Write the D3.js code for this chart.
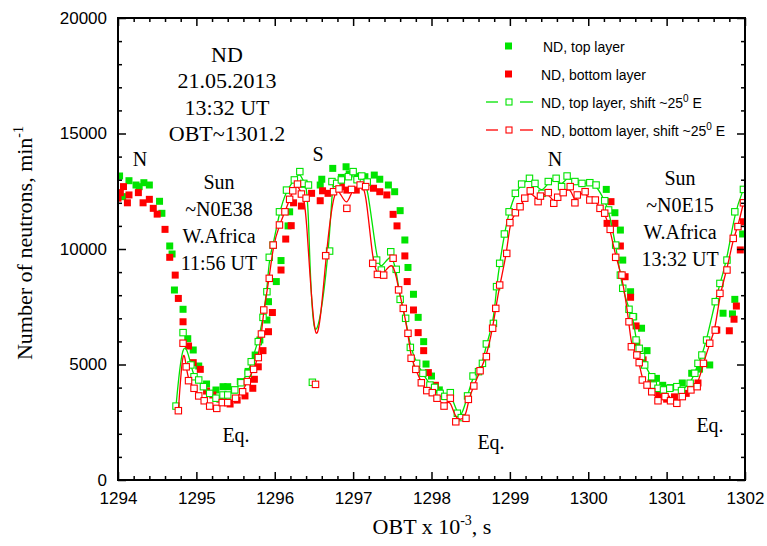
<!DOCTYPE html>
<html>
<head>
<meta charset="utf-8">
<script src="https://cdn.jsdelivr.net/npm/d3@7/dist/d3.min.js"></script>
<style>
  html, body { margin: 0; padding: 0; background: #fff; }
  svg { display: block; }
</style>
</head>
<body>
<svg id="chart" width="767" height="546"></svg>
<script>
// ND neutron counts, 21.05.2013, versus on-board time (OBT x 10^-3 s)
const xTicks = [1294, 1295, 1296, 1297, 1298, 1299, 1300, 1301, 1302];
const yTicks = [0, 5000, 10000, 15000, 20000];

// top layer, measured
const topLayer = [
  [1294.02,13160],[1294.06,12265],[1294.14,12957],[1294.23,12770],[1294.27,12697],[1294.33,12870],
  [1294.40,12770],[1294.53,12065],[1294.56,11545],[1294.66,10130],[1294.69,9784],[1294.72,8225],
  [1294.83,7390],[1294.89,6117],[1294.96,5628],[1295.03,4935],[1295.13,4156],[1295.25,3896],
  [1295.34,4040],[1295.40,4040],[1295.48,3900],[1295.56,4260],[1295.66,4700],[1295.75,5410],
  [1295.81,6060],[1295.90,6926],[1295.92,7720],[1296.02,8590],[1296.08,9500],[1296.17,11000],
  [1296.19,11610],[1296.38,12800],[1296.58,12770],[1296.60,13020],[1296.74,13490],[1296.85,13100],
  [1296.91,13560],[1296.95,13250],[1297.05,13150],[1297.15,13130],[1297.27,13200],[1297.34,13020],
  [1297.45,12770],[1297.53,12480],[1297.60,11660],[1297.66,10390],[1297.70,9200],[1297.77,8040],
  [1297.83,7040],[1297.90,5990],[1297.93,5020],[1298.00,4500],[1298.10,3900],
  [1300.23,12580],[1300.34,11570],[1300.41,10820],[1300.44,9520],[1300.54,8150],[1300.58,7070],
  [1300.68,6570],[1300.75,5600],[1300.87,4400],[1300.95,4100],[1301.05,4000],[1301.20,4200],
  [1301.32,4620],[1301.42,4800],[1301.55,4980],[1301.72,7220],[1301.84,7190],[1301.87,7820],
  [1301.97,10650]
];

// bottom layer, measured
const bottomLayer = [
  [1294.00,12200],[1294.03,12440],[1294.07,12700],[1294.12,12000],[1294.14,12340],[1294.26,12440],
  [1294.32,12000],[1294.40,12150],[1294.45,11760],[1294.50,11510],[1294.60,10850],[1294.66,9640],
  [1294.73,8870],[1294.77,7860],[1294.83,6850],[1294.90,5800],[1294.96,5080],[1295.05,4790],
  [1295.13,3850],[1295.21,3680],[1295.30,3500],[1295.43,3290],[1295.52,3460],[1295.62,3640],
  [1295.72,3970],[1295.74,4360],[1295.79,4900],[1295.85,5600],[1295.92,6420],[1295.97,7250],
  [1296.08,9090],[1296.14,10430],[1296.21,11010],[1296.24,12000],[1296.34,11860],[1296.47,12410],
  [1296.58,12090],[1296.61,12520],[1296.68,12410],[1296.78,12840],[1296.85,12700],[1296.92,12550],
  [1297.04,12550],[1297.15,12700],[1297.26,12630],[1297.34,12480],[1297.43,12340],[1297.51,11500],
  [1297.56,11000],[1297.66,9700],[1297.69,8590],[1297.77,7360],[1297.83,6380],[1297.90,5600],
  [1297.96,4650],[1298.05,4100],
  [1300.24,11110],[1300.29,12050],[1300.34,11110],[1300.41,10130],[1300.47,8800],[1300.54,7910],
  [1300.61,6670],[1300.62,5940],[1300.70,5200],[1300.80,4200],[1300.90,3700],[1301.00,3500],
  [1301.10,3600],[1301.25,3750],[1301.40,4200],[1301.64,6490],[1301.80,6460],[1301.86,6960],
  [1301.89,7530],[1301.94,9960],[1301.98,11180]
];

// top layer, shifted ~25 deg E
const topShift = [
  [1294.74,3200],[1294.83,6380],[1294.93,4980],[1294.97,4470],[1295.03,4330],[1295.09,4040],
  [1295.17,3750],[1295.25,3540],[1295.34,3680],[1295.40,3680],[1295.49,3900],[1295.57,4210],
  [1295.66,4620],[1295.70,5120],[1295.79,5990],[1295.85,7040],[1295.90,8150],[1295.93,9640],
  [1295.98,10170],[1296.06,11610],[1296.15,12550],[1296.25,12990],[1296.32,13350],[1296.37,12840],
  [1296.43,12770],[1296.48,4230],[1296.70,9910],[1296.73,12920],[1296.79,12840],[1296.85,12990],
  [1296.94,13130],[1297.00,13350],[1297.05,13000],[1297.11,13160],[1297.18,12900],[1297.30,9520],
  [1297.36,9090],[1297.48,9880],[1297.55,9120],[1297.60,7820],[1297.67,7000],[1297.73,5740],
  [1297.81,5050],[1297.89,4620],[1297.98,4110],[1298.04,4010],[1298.11,3750],[1298.17,3620],
  [1298.24,3780],[1298.33,2890],[1298.38,2700],[1298.46,3640],[1298.53,4500],[1298.60,4690],
  [1298.65,5050],[1298.70,5890],[1298.79,6780],[1298.83,8370],[1298.87,9380],[1298.93,10650],
  [1298.99,11610],[1299.07,12410],[1299.15,12810],[1299.25,13060],[1299.32,12840],[1299.41,12410],
  [1299.49,12920],[1299.59,13060],[1299.66,12700],[1299.73,13160],[1299.83,12920],[1299.92,12840],
  [1300.02,12870],[1300.10,12770],[1300.21,12090],[1300.26,11690],[1300.35,10170],[1300.41,8870],
  [1300.44,8300],[1300.52,7390],[1300.57,7070],[1300.61,6060],[1300.65,5700],[1300.68,5340],
  [1300.72,4980],[1300.81,4470],[1300.83,4110],[1300.89,3970],[1300.96,3900],[1301.04,3970],
  [1301.13,4040],[1301.19,3870],[1301.30,4190],[1301.36,4620],[1301.40,5050],[1301.45,5410],
  [1301.51,6060],[1301.62,7720],[1301.68,8510],[1301.77,9520],[1301.87,11610],[1301.98,12580]
];

// bottom layer, shifted ~25 deg E
const bottomShift = [
  [1294.77,3000],[1294.83,5920],[1294.87,4900],[1294.90,4300],[1294.97,3970],[1295.03,3640],
  [1295.10,3430],[1295.17,3200],[1295.26,3100],[1295.33,3350],[1295.40,3350],[1295.50,3540],
  [1295.59,3820],[1295.65,4260],[1295.73,4790],[1295.79,5300],[1295.83,6320],[1295.86,7360],
  [1295.93,8730],[1295.98,10170],[1296.06,11040],[1296.13,11610],[1296.19,12150],[1296.23,12520],
  [1296.29,12810],[1296.34,12380],[1296.40,12200],[1296.52,4140],[1296.65,9710],[1296.75,12480],
  [1296.82,12600],[1296.92,11760],[1296.98,12580],[1297.09,12770],[1297.16,12700],[1297.25,9380],
  [1297.31,8900],[1297.39,8870],[1297.51,9600],[1297.58,8230],[1297.64,7430],[1297.70,6350],
  [1297.74,5270],[1297.80,4790],[1297.87,4210],[1297.94,3870],[1298.01,3780],[1298.07,3540],
  [1298.16,3200],[1298.24,3540],[1298.31,2520],[1298.44,2670],[1298.47,3490],[1298.54,4070],
  [1298.62,4730],[1298.70,5340],[1298.78,6570],[1298.82,7430],[1298.87,8440],[1298.96,9810],
  [1299.00,11140],[1299.07,11570],[1299.13,11830],[1299.19,12200],[1299.26,12520],[1299.36,12050],
  [1299.39,12290],[1299.49,12440],[1299.56,11980],[1299.61,12240],[1299.68,12440],[1299.77,12700],
  [1299.83,12000],[1299.86,12340],[1299.96,12480],[1300.02,12120],[1300.09,12120],[1300.15,11760],
  [1300.21,11550],[1300.28,10850],[1300.35,9640],[1300.43,8870],[1300.52,6850],[1300.55,5770],
  [1300.62,5410],[1300.65,5080],[1300.69,4330],[1300.75,4110],[1300.81,3820],[1300.89,3430],
  [1300.98,3610],[1301.05,3430],[1301.13,3320],[1301.20,3610],[1301.31,3900],[1301.39,4040],
  [1301.47,5050],[1301.55,5920],[1301.62,6490],[1301.68,8080],[1301.77,9090],[1301.85,10460],
  [1301.91,10970],[1301.98,12000]
];

const GREEN = "#00e400";
const RED = "#ff0000";

const svg = d3.select("#chart");
const pLeft = 118, pRight = 745, pTop = 18, pBottom = 480;

const x = d3.scaleLinear().domain([1294, 1302]).range([pLeft, pRight]);
const y = d3.scaleLinear().domain([0, 20000]).range([pBottom, pTop]);

svg.append("defs").append("clipPath").attr("id", "clip")
  .append("rect").attr("x", pLeft).attr("y", pTop).attr("width", pRight - pLeft).attr("height", pBottom - pTop);
const inner = svg.append("g").attr("clip-path", "url(#clip)");

// filled squares: measured layers
function filled(data, color) {
  inner.append("g").selectAll("rect").data(data).enter().append("rect")
    .attr("x", d => x(d[0]) - 3.5).attr("y", d => y(d[1]) - 3.5)
    .attr("width", 7).attr("height", 7).attr("fill", color);
}
filled(topLayer, GREEN);
filled(bottomLayer, RED);

// B-spline lines with open squares: shifted layers
function shifted(data, color) {
  const line = d3.line().x(d => x(d[0])).y(d => y(d[1])).curve(d3.curveBasis);
  inner.append("path").datum(data).attr("d", line)
    .attr("fill", "none").attr("stroke", color).attr("stroke-width", 1.3);
  inner.append("g").selectAll("rect").data(data).enter().append("rect")
    .attr("x", d => x(d[0]) - 3.2).attr("y", d => y(d[1]) - 3.2)
    .attr("width", 6.4).attr("height", 6.4)
    .attr("fill", "#fff").attr("stroke", color).attr("stroke-width", 1.1);
}
shifted(topShift, GREEN);
shifted(bottomShift, RED);

// axes, ticks pointing inward on all four sides
const fontAxis = "'Liberation Sans', Arial, sans-serif";
const axisBottom = d3.axisBottom(x).tickValues(xTicks).tickFormat(d3.format("d")).tickSizeInner(-8).tickSizeOuter(0).tickPadding(12);
const axisLeft = d3.axisLeft(y).tickValues(yTicks).tickFormat(d3.format("d")).tickSizeInner(-8).tickSizeOuter(0).tickPadding(11);
const axisTop = d3.axisTop(x).tickValues(xTicks).tickFormat("").tickSizeInner(-8).tickSizeOuter(0);
const axisRight = d3.axisRight(y).tickValues(yTicks).tickFormat("").tickSizeInner(-8).tickSizeOuter(0);

const xMinor = d3.range(1294, 1302.001, 0.2).filter(v => Math.abs(v - Math.round(v)) > 0.01);
const yMinor = d3.range(0, 20001, 1000).filter(v => v % 5000 !== 0);
const mxB = d3.axisBottom(x).tickValues(xMinor).tickFormat("").tickSizeInner(-4).tickSizeOuter(0);
const mxT = d3.axisTop(x).tickValues(xMinor).tickFormat("").tickSizeInner(-4).tickSizeOuter(0);
const myL = d3.axisLeft(y).tickValues(yMinor).tickFormat("").tickSizeInner(-4).tickSizeOuter(0);
const myR = d3.axisRight(y).tickValues(yMinor).tickFormat("").tickSizeInner(-4).tickSizeOuter(0);

function place(axis, tx, ty) {
  const g = svg.append("g").attr("transform", `translate(${tx},${ty})`).call(axis);
  g.select(".domain").remove();
  g.selectAll("line").attr("stroke", "#000").attr("stroke-width", 1.5);
  g.selectAll("text").attr("font-family", fontAxis).attr("font-size", 17).attr("fill", "#000");
  return g;
}
place(axisBottom, 0, pBottom);
place(axisLeft, pLeft, 0);
place(axisTop, 0, pTop);
place(axisRight, pRight, 0);
place(mxB, 0, pBottom); place(mxT, 0, pTop);
place(myL, pLeft, 0); place(myR, pRight, 0);

svg.append("rect").attr("x", pLeft).attr("y", pTop).attr("width", pRight - pLeft).attr("height", pBottom - pTop)
  .attr("fill", "none").attr("stroke", "#000").attr("stroke-width", 2);

// axis titles
const serif = "'Liberation Serif', 'Times New Roman', serif";
const xt = svg.append("text").attr("x", 432).attr("y", 534).attr("text-anchor", "middle")
  .attr("font-family", serif).attr("font-size", 22);
xt.append("tspan").text("OBT x 10");
xt.append("tspan").attr("dy", -9).attr("font-size", 14).text("-3");
xt.append("tspan").attr("dy", 9).text(", s");

const yt = svg.append("text").attr("transform", "translate(32,243) rotate(-90)").attr("text-anchor", "middle")
  .attr("font-family", serif).attr("font-size", 22);
yt.append("tspan").text("Number of neutrons, min");
yt.append("tspan").attr("dy", -9).attr("font-size", 14).text("-1");

// annotations
function block(lines, cx, y0, dy, size) {
  lines.forEach((t, i) => svg.append("text").attr("x", cx).attr("y", y0 + i * dy)
    .attr("text-anchor", "middle").attr("font-family", serif).attr("font-size", size).text(t));
}
block(["ND", "21.05.2013", "13:32 UT", "OBT~1301.2"], 227, 62, 26.3, 22);
block(["Sun", "~N0E38", "W.Africa", "11:56 UT"], 219, 189, 27, 20);
block(["Sun", "~N0E15", "W.Africa", "13:32 UT"], 680, 185, 27, 20);
[["N", 140, 166], ["S", 318, 161], ["N", 555, 166], ["Eq.", 236, 442], ["Eq.", 491, 449], ["Eq.", 710, 432]]
  .forEach(d => svg.append("text").attr("x", d[1]).attr("y", d[2]).attr("text-anchor", "middle")
    .attr("font-family", serif).attr("font-size", 20).text(d[0]));

// legend
const leg = svg.append("g").attr("font-family", fontAxis).attr("font-size", 14);
const items = [
  { c: GREEN, open: false, label: "ND, top layer", ty: 52, tx: 543 },
  { c: RED, open: false, label: "ND, bottom layer", ty: 80, tx: 541 },
  { c: GREEN, open: true, label: "ND, top layer, shift ~25", ty: 108, tx: 541 },
  { c: RED, open: true, label: "ND, bottom layer, shift ~25", ty: 136, tx: 541 }
];
items.forEach(it => {
  const cy = it.ty - 6;
  if (it.open) {
    leg.append("line").attr("x1", 486).attr("x2", 498).attr("y1", cy).attr("y2", cy).attr("stroke", it.c).attr("stroke-width", 1.3);
    leg.append("line").attr("x1", 520).attr("x2", 533).attr("y1", cy).attr("y2", cy).attr("stroke", it.c).attr("stroke-width", 1.3);
    leg.append("rect").attr("x", 506).attr("y", cy - 3).attr("width", 6).attr("height", 6)
      .attr("fill", "#fff").attr("stroke", it.c).attr("stroke-width", 1.1);
  } else {
    leg.append("rect").attr("x", 505).attr("y", cy - 3.5).attr("width", 7).attr("height", 7).attr("fill", it.c);
  }
  const t = leg.append("text").attr("x", it.tx).attr("y", it.ty).text(it.label);
  if (it.open) {
    t.append("tspan").attr("dy", -6).attr("font-size", 10).text("0");
    t.append("tspan").attr("dy", 6).text(" E");
  }
});
</script>
</body>
</html>
